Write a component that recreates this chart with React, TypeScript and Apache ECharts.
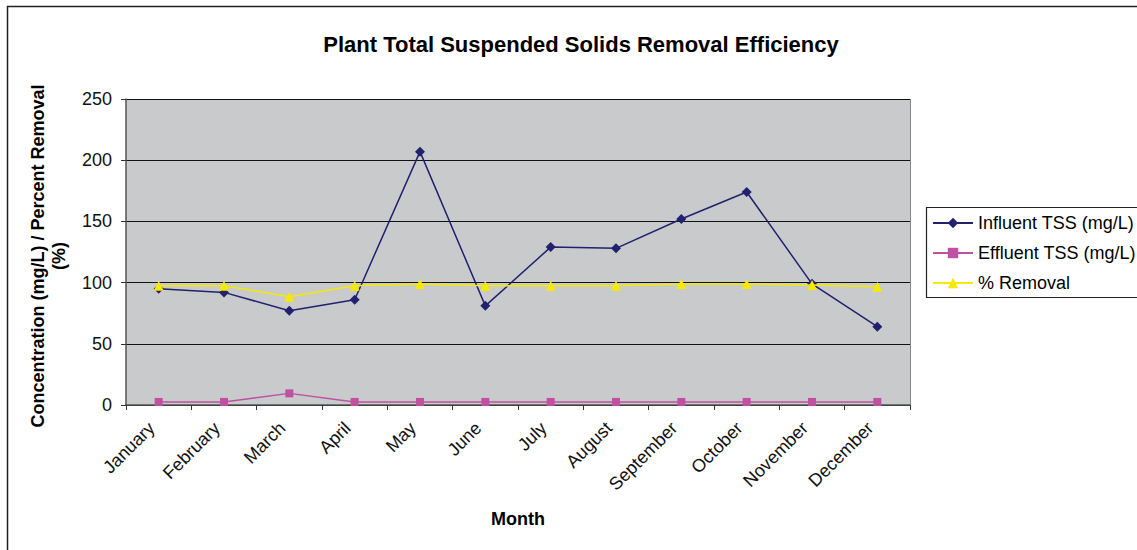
import React, { useEffect, useRef } from "react";
import * as echarts from "echarts";

const months = ["January", "February", "March", "April", "May", "June", "July", "August", "September", "October", "November", "December"];
const influent = [95, 92, 77, 86, 207, 81, 129, 128, 152, 174, 99, 64];
const effluent = [2.5, 2.5, 9.5, 2.5, 2.5, 2.5, 2.5, 2.5, 2.5, 2.5, 2.5, 2.5];
const removal = [97.5, 97.5, 88.5, 97.5, 98.9, 97.5, 97.5, 97.5, 98.9, 98.9, 98, 96.7];
const yTicks = { min: 0, max: 250, interval: 50 };

const FONT = "Liberation Sans, Arial, sans-serif";

export default function App() {
  const ref = useRef<HTMLDivElement>(null);
  useEffect(() => {
    if (!ref.current) return;
    const chart = echarts.init(ref.current, null, { renderer: "svg" });
    chart.setOption({
      animation: false,
      backgroundColor: "#ffffff",
      textStyle: { fontFamily: FONT },
      title: {
        text: "Plant Total Suspended Solids Removal Efficiency",
        left: 576,
        top: 28,
        textAlign: "center",
        textStyle: { fontSize: 22, fontWeight: "bold", color: "#000", fontFamily: FONT },
      },
      grid: { left: 126, top: 99, width: 784, height: 306, show: true, backgroundColor: "#c9cacc", borderWidth: 0 },
      legend: {
        orient: "vertical",
        left: 927,
        top: 209,
        itemWidth: 40,
        itemHeight: 13,
        itemGap: 12,
        textStyle: { fontSize: 18, color: "#000", fontFamily: FONT },
        data: ["Influent TSS (mg/L)", "Effluent TSS (mg/L)", "% Removal"],
      },
      xAxis: {
        type: "category",
        data: months,
        boundaryGap: true,
        name: "Month",
        nameLocation: "middle",
        nameGap: 105,
        nameTextStyle: { fontSize: 18, fontWeight: "bold", color: "#000", fontFamily: FONT },
        axisLine: { lineStyle: { color: "#555", width: 1.5 } },
        axisTick: { show: true, length: 5, lineStyle: { color: "#333" } },
        axisLabel: { rotate: 45, fontSize: 18, color: "#111", margin: 13, padding: [0, 10, 0, 0], fontFamily: FONT },
        splitLine: { show: false },
      },
      yAxis: {
        type: "value",
        min: yTicks.min,
        max: yTicks.max,
        interval: yTicks.interval,
        axisLine: { show: true, lineStyle: { color: "#555", width: 1.5 } },
        axisTick: { show: true, length: 5, lineStyle: { color: "#333" } },
        axisLabel: { fontSize: 18, color: "#111", margin: 14, fontFamily: FONT },
        splitLine: { show: true, lineStyle: { color: "#111", width: 1 } },
      },
      graphic: [
        {
          type: "rect",
          shape: { x: 7.5, y: 6.5, width: 1200, height: 600 },
          style: { fill: "none", stroke: "#222", lineWidth: 1.5 },
          silent: true,
          z: -1,
        },
        {
          type: "rect",
          shape: { x: 926.5, y: 207.5, width: 250, height: 90 },
          style: { fill: "#fff", stroke: "#222", lineWidth: 1.2 },
          silent: true,
          z: 0,
        },
        {
          type: "rect",
          shape: { x: 910, y: 99, width: 1, height: 306 },
          style: { fill: "#888" },
          silent: true,
          z: 10,
        },
        {
          type: "text",
          x: 48,
          y: 256,
          rotation: Math.PI / 2,
          style: {
            text: "Concentration (mg/L) / Percent Removal\n(%)",
            font: "bold 18px " + FONT,
            fill: "#000",
            textAlign: "center",
            textVerticalAlign: "middle",
            lineHeight: 21,
          },
          z: 10,
        },
      ],
      series: [
        {
          name: "Influent TSS (mg/L)",
          type: "line",
          data: influent,
          symbol: "diamond",
          symbolSize: 10,
          itemStyle: { color: "#21216e" },
          lineStyle: { color: "#21216e", width: 1.5 },
          z: 4,
        },
        {
          name: "Effluent TSS (mg/L)",
          type: "line",
          data: effluent,
          symbol: "rect",
          symbolSize: 8,
          itemStyle: { color: "#bf50a2" },
          lineStyle: { color: "#bf50a2", width: 1.5 },
          z: 3,
        },
        {
          name: "% Removal",
          type: "line",
          data: removal,
          symbol: "triangle",
          symbolSize: 10,
          itemStyle: { color: "#f5ea00" },
          lineStyle: { color: "#f5ea00", width: 1.5 },
          z: 5,
        },
      ],
    });
    return () => chart.dispose();
  }, []);
  return <div ref={ref} style={{ position: "absolute", left: 0, top: 0, width: 1137, height: 550 }} />;
}
